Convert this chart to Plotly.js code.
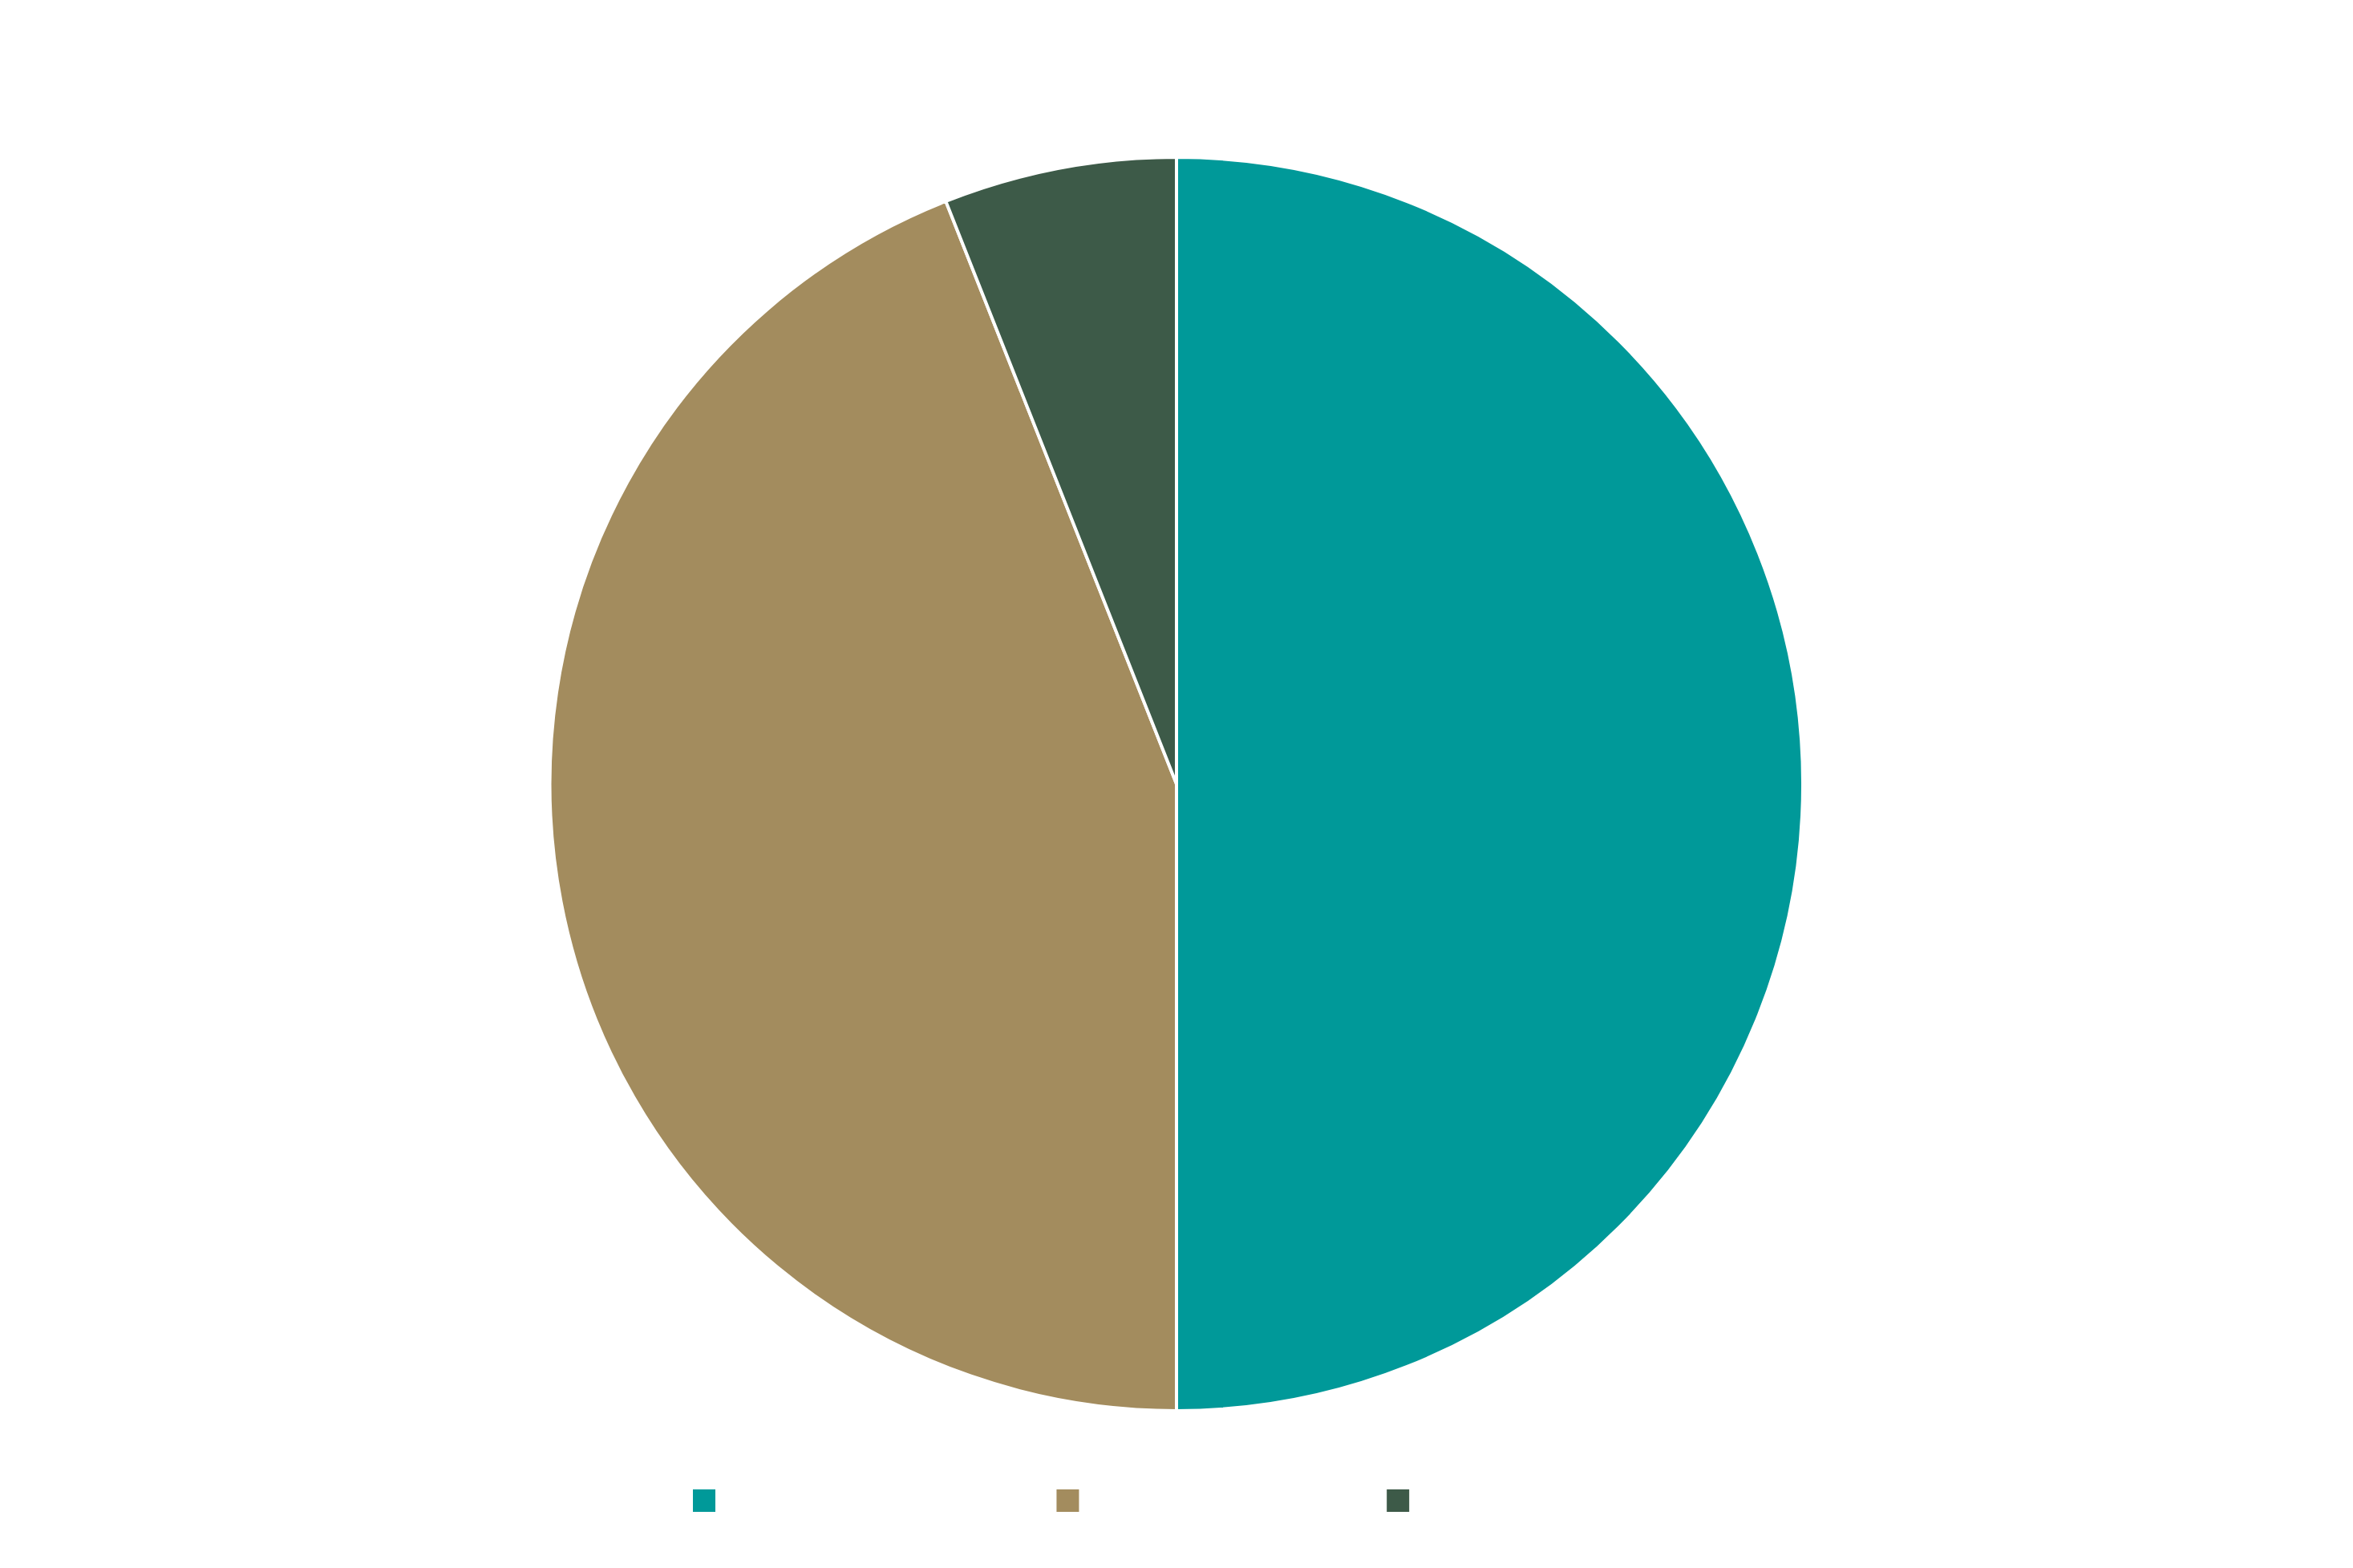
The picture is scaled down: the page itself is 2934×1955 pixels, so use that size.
<!DOCTYPE html>
<html>
<head>
<meta charset="utf-8">
<script src="https://cdn.plot.ly/plotly-3.0.1.min.js"></script>
<style>
  html, body { margin: 0; padding: 0; background: #fff; }
  #pie-chart { width: 2934px; height: 1955px; }
</style>
</head>
<body>
<div id="pie-chart"></div>
<script>
// slices (the original legend shows no label text,
// only blank entries of different widths)
var labels = [
  "\u00a0".repeat(49),
  "\u00a0".repeat(44),
  "\u200b"
];
var values = [50, 44, 6];
var colors = ["#009999", "#a38c5e", "#3d5a48"];

var pieTrace = {
  type: "pie",
  labels: labels,
  values: values,
  sort: false,
  direction: "clockwise",
  rotation: 0,
  textinfo: "none",
  hoverinfo: "skip",
  marker: {
    colors: colors,
    line: {color: "#ffffff", width: 4}
  },
  domain: {x: [0.2335, 0.7665], y: [0.1003, 0.8997]}
};

var layout = {
  width: 2934,
  height: 1955,
  margin: {l: 0, r: 0, t: 0, b: 0},
  paper_bgcolor: "#ffffff",
  showlegend: true,
  legend: {
    orientation: "h",
    x: 0.2938,
    xanchor: "left",
    y: 0.043,
    yanchor: "middle",
    font: {size: 30, family: "Liberation Sans"},
    itemclick: false
  }
};

Plotly.newPlot("pie-chart", [pieTrace], layout, {staticPlot: true}).then(function () {
  // original legend squares are ~32px, far bigger than plotly's default;
  // drawn to the right of the anchor so the legend clip doesn't cut them
  document.querySelectorAll("#pie-chart .legendpoints path").forEach(function (p) {
    p.removeAttribute("transform");
    p.setAttribute("d", "M0,-16H32V16H0Z");
  });
});
</script>
</body>
</html>
